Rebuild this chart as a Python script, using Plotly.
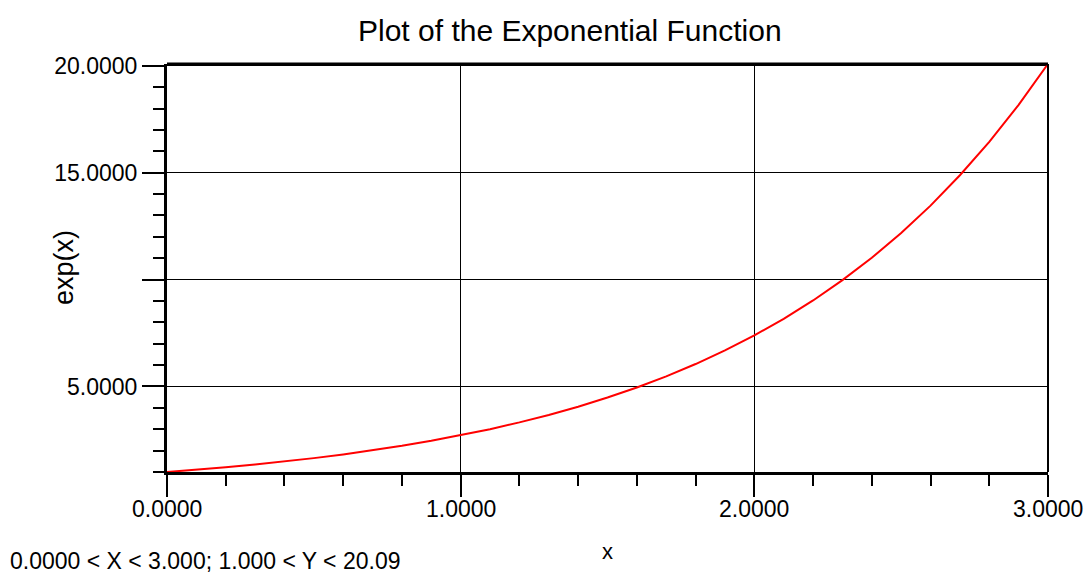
import plotly.graph_objects as go

# Data
x_vals = [0.0, 0.1, 0.2, 0.3, 0.4, 0.5, 0.6, 0.7, 0.8, 0.9, 1.0,
          1.1, 1.2, 1.3, 1.4, 1.5, 1.6, 1.7, 1.8, 1.9, 2.0,
          2.1, 2.2, 2.3, 2.4, 2.5, 2.6, 2.7, 2.8, 2.9, 3.0]
y_vals = [1.0, 1.105, 1.221, 1.35, 1.492, 1.649, 1.822, 2.014, 2.226, 2.46, 2.718,
          3.004, 3.32, 3.669, 4.055, 4.482, 4.953, 5.474, 6.05, 6.686, 7.389,
          8.166, 9.025, 9.974, 11.02, 12.18, 13.46, 14.88, 16.44, 18.17, 20.09]

x_ticks = [0, 1, 2, 3]
x_ticktext = ["0.0000", "1.0000", "2.0000", "3.0000"]
x_minor = [0.2, 0.4, 0.6, 0.8, 1.2, 1.4, 1.6, 1.8, 2.2, 2.4, 2.6, 2.8]
y_ticks = [5, 10, 15, 20]
y_ticktext = ["5.0000", "", "15.0000", "20.0000"]
y_minor = [1, 2, 3, 4, 6, 7, 8, 9, 11, 12, 13, 14, 16, 17, 18, 19]

title_text = "Plot of the Exponential Function"
caption_text = "0.0000 < X < 3.000; 1.000 < Y < 20.09"
FONT = "Liberation Sans, Arial, sans-serif"

L, R = 167, 40
PW = 1088 - L - R

fig = go.Figure()
fig.add_trace(go.Scatter(x=x_vals, y=y_vals, mode="lines",
                         line=dict(color="#ff0000", width=2), showlegend=False))

annotations = [
    dict(text=title_text, xref="paper", yref="paper", x=(570 - L) / PW, y=1,
         yshift=34, xanchor="center", yanchor="middle", showarrow=False,
         font=dict(size=30)),
    dict(text="exp(x)", textangle=-90, xref="paper", yref="paper",
         x=-(L - 64) / PW, y=0.5, xanchor="center", yanchor="middle",
         showarrow=False, font=dict(size=27)),
    dict(text="x", xref="paper", yref="paper", x=0.5, y=0, yshift=-79,
         xanchor="center", yanchor="middle", showarrow=False, font=dict(size=22)),
    dict(text=caption_text, xref="paper", yref="paper", x=-(L - 8) / PW, y=0,
         yshift=-89, xanchor="left", yanchor="middle", showarrow=False,
         font=dict(size=23)),
]
# x tick labels drawn as text at the tick positions
for xv, tt in zip(x_ticks, x_ticktext):
    annotations.append(dict(text=tt, xref="x", yref="paper", x=xv, y=0, yshift=-37,
                            xanchor="center", yanchor="middle", showarrow=False,
                            font=dict(size=23)))

fig.update_layout(
    width=1088, height=576,
    margin=dict(l=L, r=R, t=64, b=104),
    paper_bgcolor="white", plot_bgcolor="white",
    font=dict(family=FONT, color="black", size=22),
    xaxis=dict(range=[0, 3], tickmode="array", tickvals=x_ticks, showticklabels=False,
               ticks="outside", ticklen=22, tickwidth=2, tickcolor="black",
               showgrid=True, gridcolor="black", gridwidth=1,
               showline=True, linecolor="black", linewidth=3,
               zeroline=False,
               minor=dict(tickmode="array", tickvals=x_minor, ticks="outside",
                          ticklen=11, tickwidth=2, tickcolor="black", showgrid=False)),
    yaxis=dict(range=[1, 20.0855], tickmode="array", tickvals=y_ticks, ticktext=y_ticktext,
               ticks="outside", ticklen=22, tickwidth=1.5, tickcolor="black",
               showgrid=True, gridcolor="black", gridwidth=1,
               showline=True, linecolor="black", linewidth=3,
               zeroline=False, tickfont=dict(size=23),
               minor=dict(tickmode="array", tickvals=y_minor, ticks="outside",
                          ticklen=11, tickwidth=2, tickcolor="black", showgrid=False)),
    shapes=[
        dict(type="line", xref="paper", yref="paper", x0=0, x1=1, y0=1, y1=1,
             line=dict(color="black", width=3)),
        dict(type="line", xref="paper", yref="paper", x0=1, x1=1, y0=0, y1=1,
             line=dict(color="black", width=2)),
    ],
    annotations=annotations,
)

fig.write_html("out.html")
